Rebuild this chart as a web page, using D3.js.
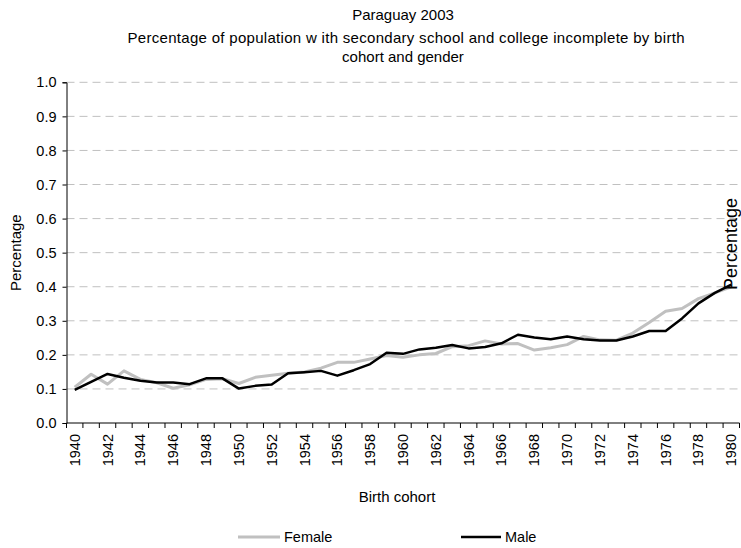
<!DOCTYPE html>
<html><head><meta charset="utf-8">
<script src="https://cdn.jsdelivr.net/npm/d3@7"></script>
<style>body{margin:0;background:#fff}svg{display:block;font-family:"Liberation Sans",Arial,sans-serif}</style>
</head><body>
<script>
const years = d3.range(1940, 1981);
const female = [0.105,0.143,0.114,0.153,0.128,0.118,0.102,0.112,0.128,0.130,
  0.116,0.134,0.140,0.146,0.150,0.161,0.178,0.178,0.188,0.198,
  0.193,0.200,0.204,0.224,0.227,0.241,0.232,0.233,0.214,0.221,
  0.230,0.254,0.244,0.243,0.264,0.295,0.328,0.336,0.365,0.382,0.400];
const male = [0.097,0.121,0.144,0.133,0.124,0.119,0.119,0.114,0.131,0.131,
  0.101,0.109,0.113,0.146,0.149,0.153,0.139,0.155,0.173,0.206,
  0.203,0.216,0.221,0.229,0.219,0.223,0.234,0.259,0.251,0.246,
  0.254,0.246,0.242,0.242,0.254,0.270,0.270,0.307,0.351,0.382,0.406];
const yTicks = [0,0.1,0.2,0.3,0.4,0.5,0.6,0.7,0.8,0.9,1.0];
const xLabels = years.filter(y => (y - 1940) % 2 === 0);

const W = 741, H = 548;
const L = 66.5, R = 739.5, T = 82.3, B = 423;
const svg = d3.select("body").append("svg").attr("width", W).attr("height", H);

const x = d3.scaleBand().domain(years).range([L, R]).padding(0);
const y = d3.scaleLinear().domain([0, 1]).range([B, T]);

// gridlines
svg.append("g").selectAll("line").data(yTicks.filter(d => d > 0)).join("line")
  .attr("x1", L).attr("x2", R).attr("y1", d => y(d)).attr("y2", d => y(d))
  .attr("stroke", "#c0c0c0").attr("stroke-width", 1).attr("stroke-dasharray", "8,5");

// y axis
const ya = svg.append("g").attr("transform", `translate(${L},0)`)
  .call(d3.axisLeft(y).tickValues(yTicks).tickFormat(d3.format(".1f")).tickSize(4).tickPadding(6));
ya.select(".domain").attr("stroke", "#000");
ya.selectAll("line").attr("stroke", "#000");
ya.selectAll("text").attr("font-size", 14.5).attr("fill", "#000").attr("font-family", "Liberation Sans, Arial, sans-serif");

// x axis line and ticks between categories
svg.append("line").attr("x1", L).attr("x2", R).attr("y1", B).attr("y2", B).attr("stroke", "#000");
svg.append("g").selectAll("line").data(years.concat([1981])).join("line")
  .attr("x1", d => d === 1981 ? R : x(d)).attr("x2", d => d === 1981 ? R : x(d))
  .attr("y1", B).attr("y2", B + 5).attr("stroke", "#000");
svg.append("g").selectAll("text").data(xLabels).join("text")
  .attr("transform", d => `translate(${x(d) + x.bandwidth() / 2 + 5},${B + 11}) rotate(-90)`)
  .attr("text-anchor", "end").attr("font-size", 14.5).attr("fill", "#000").text(d => d);

// lines
const line = arr => d3.line().x((d, i) => x(years[i]) + x.bandwidth() / 2).y(d => y(d))(arr);
svg.append("path").attr("d", line(female)).attr("fill", "none").attr("stroke", "#c0c0c0").attr("stroke-width", 3).attr("stroke-linejoin", "round");
svg.append("path").attr("d", line(male)).attr("fill", "none").attr("stroke", "#000").attr("stroke-width", 2.5).attr("stroke-linejoin", "round");

// titles
svg.append("text").attr("x", 403).attr("y", 20).attr("text-anchor", "middle").attr("font-size", 15).text("Paraguay 2003");
svg.append("text").attr("x", 406).attr("y", 43).attr("text-anchor", "middle").attr("font-size", 15)
  .attr("textLength", 557).attr("lengthAdjust", "spacing")
  .text("Percentage of population w ith secondary school and college incomplete by birth");
svg.append("text").attr("x", 403).attr("y", 62).attr("text-anchor", "middle").attr("font-size", 15).text("cohort and gender");

// axis titles
svg.append("text").attr("transform", `translate(21,${(T + B) / 2}) rotate(-90)`).attr("text-anchor", "middle").attr("font-size", 15).text("Percentage");
svg.append("text").attr("x", 397).attr("y", 502).attr("text-anchor", "middle").attr("font-size", 15).text("Birth cohort");
svg.append("text").attr("transform", `translate(737,244) rotate(-90)`).attr("text-anchor", "middle").attr("font-size", 18).text("Percentage");

// legend
const legend = [{name: "Female", color: "#c0c0c0", w: 3, x1: 238, x2: 280},
                {name: "Male", color: "#000", w: 2.5, x1: 461, x2: 501}];
const lg = svg.append("g").selectAll("g").data(legend).join("g");
lg.append("line").attr("x1", d => d.x1).attr("x2", d => d.x2).attr("y1", 537).attr("y2", 537)
  .attr("stroke", d => d.color).attr("stroke-width", d => d.w);
lg.append("text").attr("x", d => d.x2 + 4).attr("y", 542).attr("font-size", 14.5).text(d => d.name);
</script>
</body></html>
